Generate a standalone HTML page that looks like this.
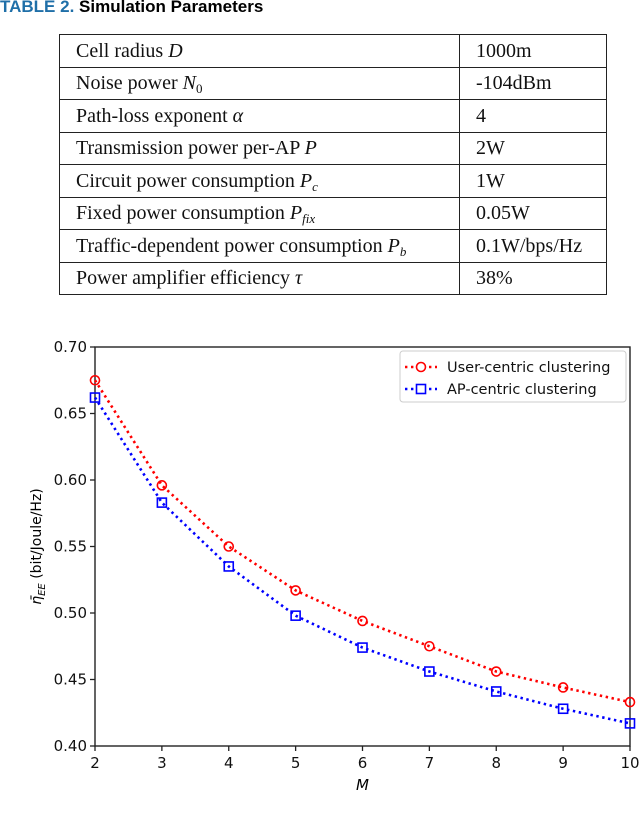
<!DOCTYPE html>
<html><head><meta charset="utf-8"><style>
body{margin:0;width:640px;height:814px;background:#fff;position:relative;overflow:hidden;font-family:"Liberation Sans",sans-serif}
#title{position:absolute;left:0;top:-3px;font-size:17px;font-weight:bold;white-space:nowrap}
#title .n{color:#1f6fa8}
table{position:absolute;left:59px;top:34px;border-collapse:collapse;font-family:"Liberation Serif",serif;font-size:20px;color:#111}
td{border:1.5px solid #222;height:31.5px;padding:0 0 0 16px;white-space:nowrap;line-height:1}
td.a{width:383px}td.b{width:130px}
i{font-style:italic}sub{font-size:13px;vertical-align:-4px;line-height:0}
</style></head><body>
<div id="title"><span class="n">TABLE 2.</span> Simulation Parameters</div>
<table>
<tr><td class="a">Cell radius <i>D</i></td><td class="b">1000m</td></tr>
<tr><td class="a">Noise power <i>N</i><sub>0</sub></td><td class="b">-104dBm</td></tr>
<tr><td class="a">Path-loss exponent <i>α</i></td><td class="b">4</td></tr>
<tr><td class="a">Transmission power per-AP <i>P</i></td><td class="b">2W</td></tr>
<tr><td class="a">Circuit power consumption <i>P</i><sub><i>c</i></sub></td><td class="b">1W</td></tr>
<tr><td class="a">Fixed power consumption <i>P</i><sub><i>fix</i></sub></td><td class="b">0.05W</td></tr>
<tr><td class="a">Traffic-dependent power consumption <i>P</i><sub><i>b</i></sub></td><td class="b">0.1W/bps/Hz</td></tr>
<tr><td class="a">Power amplifier efficiency <i>τ</i></td><td class="b">38%</td></tr>
</table>
<svg id="chart" width="640" height="814" style="position:absolute;left:0;top:0"></svg>
<script>
const categories=[2,3,4,5,6,7,8,9,10];
const userCentric=[0.675,0.596,0.550,0.517,0.494,0.475,0.456,0.444,0.433];
const apCentric=[0.662,0.583,0.535,0.498,0.474,0.456,0.441,0.428,0.417];
const yTicks=[0.40,0.45,0.50,0.55,0.60,0.65,0.70];
const xTicks=[2,3,4,5,6,7,8,9,10];
const svg=document.getElementById('chart');const NS='http://www.w3.org/2000/svg';
const L=95,R=630,T=347,B=746;
const xs=v=>L+(v-2)/8*(R-L), ys=v=>B-(v-0.40)/0.30*(B-T);
function mk(t,a,p){const e=document.createElementNS(NS,t);for(const k in a)e.setAttribute(k,a[k]);(p||svg).appendChild(e);return e;}
const frame=mk('rect',{x:L,y:T,width:R-L,height:B-T,fill:'none',stroke:'#222','stroke-width':1.4});


yTicks.forEach(v=>{mk('line',{x1:L-5,x2:L,y1:ys(v),y2:ys(v),stroke:'#222','stroke-width':1.3});
const t=mk('text',{x:L-8,y:ys(v)+5,'text-anchor':'end','font-size':15,'font-family':'DejaVu Sans,sans-serif',fill:'#111'});t.textContent=v.toFixed(2);

});
xTicks.forEach(v=>{mk('line',{x1:xs(v),x2:xs(v),y1:B,y2:B+5,stroke:'#222','stroke-width':1.3});
const t=mk('text',{x:xs(v),y:B+22,'text-anchor':'middle','font-size':15,'font-family':'DejaVu Sans,sans-serif',fill:'#111'});t.textContent=v;

});
const xl=mk('text',{x:(L+R)/2,y:B+44,'text-anchor':'middle','font-size':15,'font-style':'italic','font-family':'DejaVu Sans,sans-serif'});xl.textContent='M';


const yl=mk('text',{transform:`translate(41,${(T+B)/2}) rotate(-90)`,'text-anchor':'middle','font-size':14,'font-family':'DejaVu Sans,sans-serif'});
yl.innerHTML='<tspan font-style="italic">η̄</tspan><tspan font-size="10" font-style="italic" dy="4">EE</tspan><tspan dy="-4"> (bit/Joule/Hz)</tspan>';


function series(vals,color,marker,name){
const g=mk('g',{});
mk('polyline',{points:vals.map((v,i)=>xs(categories[i])+','+ys(v)).join(' '),fill:'none',stroke:color,'stroke-width':2.6,'stroke-dasharray':'2.4,3.6'},g);
vals.forEach((v,i)=>{const x=xs(categories[i]),y=ys(v);let m;
if(marker==='o')m=mk('circle',{cx:x,cy:y,r:4.5,fill:'none',stroke:color,'stroke-width':1.6},g);
else m=mk('rect',{x:x-4.5,y:y-4.5,width:9,height:9,fill:'none',stroke:color,'stroke-width':1.6},g);

});}
series(userCentric,'#ff0000','o','user-centric-series');
series(apCentric,'#0000ff','s','ap-centric-series');
const lg=mk('g',{});
mk('rect',{x:400,y:351,width:226,height:51,rx:3,fill:'#fff',stroke:'#ccc'},lg);
[['User-centric clustering','#ff0000','o',367],['AP-centric clustering','#0000ff','s',389]].forEach(([lab,c,m,y])=>{
mk('line',{x1:405,x2:437,y1:y,y2:y,stroke:c,'stroke-width':2.6,'stroke-dasharray':'2.4,3.6'},lg);
if(m==='o')mk('circle',{cx:421,cy:y,r:4.5,fill:'#fff',stroke:c,'stroke-width':1.6},lg);else mk('rect',{x:416.5,y:y-4.5,width:9,height:9,fill:'#fff',stroke:c,'stroke-width':1.6},lg);
const t=mk('text',{x:447,y:y+5,'font-size':14.5,'font-family':'DejaVu Sans,sans-serif',fill:'#111'},lg);t.textContent=lab;

});
</script>
</body></html>
